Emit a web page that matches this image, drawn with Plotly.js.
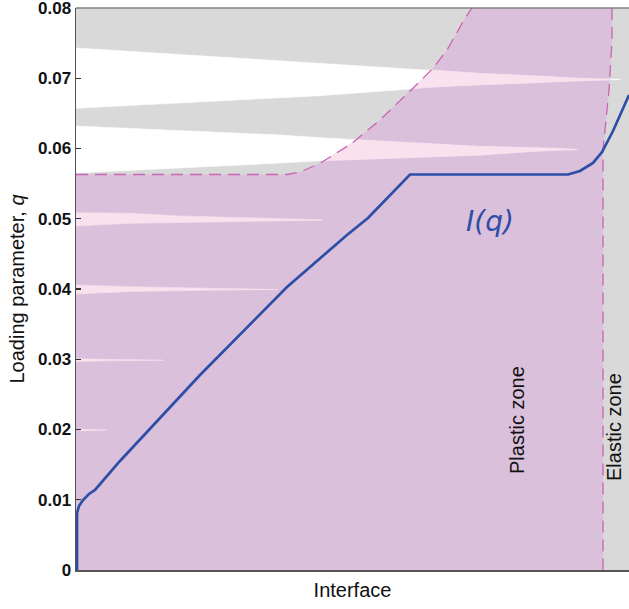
<!DOCTYPE html>
<html>
<head>
<meta charset="utf-8">
<script src="https://cdn.plot.ly/plotly-3.0.1.min.js"></script>
<style>
  html, body { margin: 0; padding: 0; background: #ffffff; overflow: hidden; }
  #chart { width: 629px; height: 609px; }
</style>
</head>
<body>
<div id="chart"></div>
<script>
// ---- Data (x: position along the interface, arbitrary units; q: loading parameter) ----
// Yield boundary (dashed, left/top edge of the plastic zone)
const yieldX = [0, 211, 224, 244, 276, 304, 337, 357, 371, 389, 396];
const yieldQ = [0.0563, 0.0563, 0.05665, 0.05789, 0.06074, 0.06406, 0.06857, 0.07142, 0.07402, 0.07853, 0.08];
// Elastic / plastic boundary (dashed, right edge of the plastic zone)
const elasticX = [536, 536, 533, 530, 527, 527];
const elasticQ = [0.08, 0.07544, 0.06833, 0.06363, 0.05979, 0];

// Interface curve I(q)
const curveX = [1, 1, 3, 7, 13, 19, 44, 82, 124, 211, 246, 271, 292, 334, 492, 504, 517, 526, 537, 553];
const curveQ = [0, 0.00811, 0.00911, 0.00996, 0.01082, 0.01139, 0.01552, 0.02135, 0.02776, 0.04028,
                0.04456, 0.04769, 0.05011, 0.0563, 0.0563, 0.0568, 0.05794, 0.0595, 0.06249, 0.06762];

// Tapering bands (wedges) in the elastic (white) state: x, upper edge q, lower edge q
const w1X   = [0, 204, 244, 357, 404, 454, 484, 514, 544];
const w1Top = [0.07431, 0.07246, 0.07213, 0.07117, 0.07068, 0.07039, 0.07011, 0.06992, 0.06985];
const w1Bot = [0.06572, 0.06723, 0.06752, 0.06872, 0.06911, 0.06932, 0.06954, 0.06971, 0.06981];

const w2X   = [0, 204, 244, 404, 454, 479, 501];
const w2Top = [0.06320, 0.06192, 0.06154, 0.06028, 0.06014, 0.06003, 0.05989];
const w2Bot = [0.05651, 0.05794, 0.05826, 0.05907, 0.05957, 0.05976, 0.05984];

// Parts of the bands lying inside the plastic zone (pink)
const p1X   = [337.5, 355, 404, 454, 484, 514, 534];
const p1Top = [0.06858, 0.07119, 0.07068, 0.07039, 0.07011, 0.06992, 0.06988];
const p1Bot = [0.06858, 0.06880, 0.06911, 0.06932, 0.06954, 0.06971, 0.06977];

const p2X   = [248.4, 280.3, 404, 454, 479, 501];
const p2Top = [0.05829, 0.06125, 0.06028, 0.06014, 0.06003, 0.05989];
const p2Bot = [0.05829, 0.05846, 0.05907, 0.05957, 0.05976, 0.05984];

const p3X   = [0, 54, 104, 177, 224, 246];
const p3Top = [0.05086, 0.05078, 0.05039, 0.05015, 0.04992, 0.04985];
const p3Bot = [0.04897, 0.04935, 0.04949, 0.04968, 0.04974, 0.04979];

const p4X   = [0, 54, 131, 202];
const p4Top = [0.04057, 0.04033, 0.04010, 0.03997];
const p4Bot = [0.03929, 0.03964, 0.03982, 0.03993];

const p5X   = [0, 31, 87];
const p5Top = [0.03006, 0.02999, 0.02992];
const p5Bot = [0.02968, 0.02978, 0.02986];

const p6X   = [4, 31];
const p6Top = [0.02003, 0.01996];
const p6Bot = [0.01982, 0.01990];

const yTickVals = [0, 0.01, 0.02, 0.03, 0.04, 0.05, 0.06, 0.07, 0.08];
const yTickText = ['0', '0.01', '0.02', '0.03', '0.04', '0.05', '0.06', '0.07', '0.08'];

// ---- Build traces ----
function band(xs, top, bot, color) {
  return {
    x: xs.concat(xs.slice().reverse()),
    y: top.concat(bot.slice().reverse()),
    type: 'scatter', mode: 'lines', fill: 'toself',
    fillcolor: color,
    line: { color: color, width: 0.6 },
    hoverinfo: 'skip', showlegend: false
  };
}
const WHITE = '#ffffff', PINK = '#f9e1ee';

const traces = [
  band(w1X, w1Top, w1Bot, WHITE),
  band(w2X, w2Top, w2Bot, WHITE),
  {
    // plastic zone
    x: [0].concat(yieldX, elasticX, [0]),
    y: [0].concat(yieldQ, elasticQ, [0]),
    type: 'scatter', mode: 'lines', fill: 'toself',
    fillcolor: 'rgba(229,121,229,0.25)',
    line: { width: 0 }, hoverinfo: 'skip', showlegend: false
  },
  band(p1X, p1Top, p1Bot, PINK),
  band(p2X, p2Top, p2Bot, PINK),
  band(p3X, p3Top, p3Bot, PINK),
  band(p4X, p4Top, p4Bot, PINK),
  band(p5X, p5Top, p5Bot, PINK),
  band(p6X, p6Top, p6Bot, PINK),
  {
    x: yieldX, y: yieldQ, type: 'scatter', mode: 'lines',
    line: { color: '#c766b4', width: 1.3, dash: '12px,7px' },
    hoverinfo: 'skip', showlegend: false
  },
  {
    x: elasticX, y: elasticQ, type: 'scatter', mode: 'lines',
    line: { color: '#c766b4', width: 1.3, dash: '12px,7px' },
    hoverinfo: 'skip', showlegend: false
  },
  {
    x: curveX, y: curveQ, type: 'scatter', mode: 'lines',
    line: { color: '#2d4ea6', width: 2.7 },
    hoverinfo: 'skip', showlegend: false
  }
];

const layout = {
  width: 629, height: 609,
  margin: { l: 76, r: 0, t: 8, b: 39, pad: 0 },
  paper_bgcolor: '#ffffff',
  plot_bgcolor: '#d9d9d9',
  font: { family: 'Liberation Sans, Arial, sans-serif', color: '#111111' },
  xaxis: {
    range: [0, 553], showgrid: false, zeroline: false,
    showticklabels: false, ticks: '',
    showline: true, mirror: false, linecolor: '#555555', linewidth: 1.5,
    title: { text: 'Interface', font: { size: 20, color: '#111111' }, standoff: 12 },
    automargin: false, fixedrange: true
  },
  yaxis: {
    range: [0, 0.08], showgrid: false, zeroline: false,
    tickvals: yTickVals, ticktext: yTickText,
    ticks: 'inside', ticklen: 5, tickcolor: '#333333', tickwidth: 1.2,
    tickfont: { size: 17, color: '#111111', weight: 'bold' },
    ticklabeloverflow: 'allow',
    showline: true, mirror: false, linecolor: '#555555', linewidth: 1.5,
    title: { text: 'Loading parameter, <i>q</i>', font: { size: 20, color: '#111111' }, standoff: 8 },
    automargin: false, fixedrange: true
  },
  shapes: [
    { type: 'line', xref: 'paper', yref: 'paper', x0: 0, x1: 1, y0: 1, y1: 1,
      line: { color: '#808080', width: 1.5 }, layer: 'above' }
  ],
  annotations: [
    {
      x: 414, y: 0.04954, xref: 'x', yref: 'y', showarrow: false,
      text: '<i>I(q)</i>',
      font: { family: 'DejaVu Sans, sans-serif', size: 28, color: '#2d4ea6' }
    },
    {
      x: 441, y: 0.02135, xref: 'x', yref: 'y', showarrow: false,
      text: 'Plastic zone', textangle: -90,
      font: { size: 20, color: '#111111' }
    },
    {
      x: 538, y: 0.02036, xref: 'x', yref: 'y', showarrow: false,
      text: 'Elastic zone', textangle: -90,
      font: { size: 20, color: '#111111' }
    }
  ],
  showlegend: false
};

Plotly.newPlot('chart', traces, layout, { staticPlot: true, displayModeBar: false });
</script>
</body>
</html>
